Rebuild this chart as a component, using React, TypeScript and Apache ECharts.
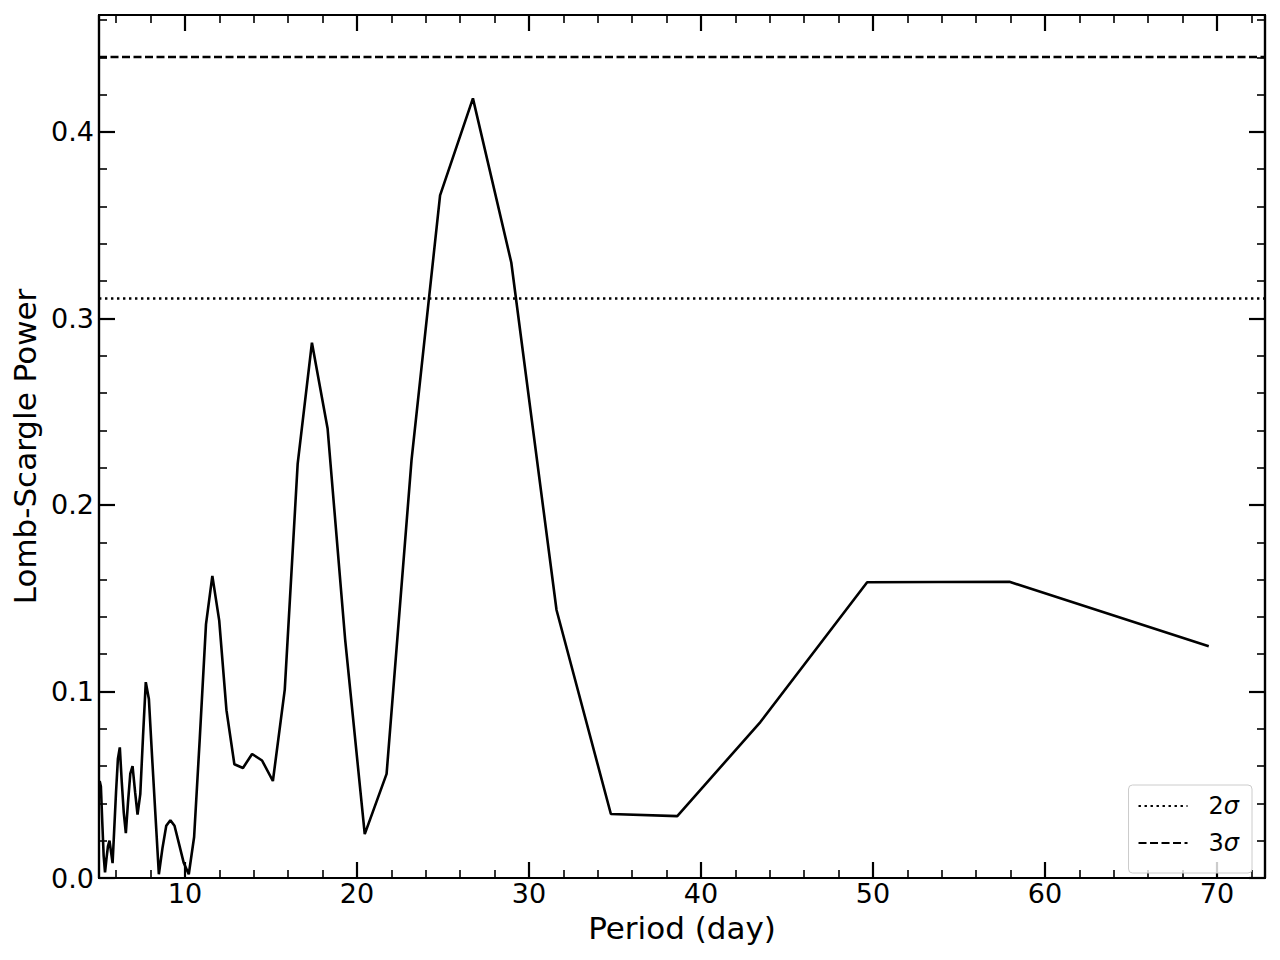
import React, { useEffect, useRef } from "react";
import * as echarts from "echarts";

// Period (day) of each sample
const periods = [
  5.04, 5.11, 5.19, 5.27, 5.35, 5.43, 5.52, 5.61, 5.7, 5.79, 5.89, 5.99, 6.1,
  6.21, 6.32, 6.44, 6.56, 6.69, 6.82, 6.95, 7.1, 7.24, 7.4, 7.56, 7.72, 7.9,
  8.08, 8.28, 8.48, 8.69, 8.91, 9.15, 9.39, 9.66, 9.93, 10.22, 10.53, 10.86,
  11.22, 11.59, 11.99, 12.41, 12.87, 13.37, 13.9, 14.48, 15.11, 15.8, 16.55,
  17.38, 18.29, 19.31, 20.45, 21.72, 23.17, 24.83, 26.74, 28.97, 31.6, 34.76,
  38.62, 43.45, 49.66, 57.93, 69.52,
];
// Lomb-Scargle power at each period
const power = [
  0.052, 0.049, 0.03, 0.012, 0.003, 0.01, 0.017, 0.02, 0.014, 0.008, 0.027,
  0.046, 0.064, 0.07, 0.052, 0.035, 0.024, 0.041, 0.056, 0.06, 0.046, 0.034,
  0.045, 0.076, 0.105, 0.096, 0.066, 0.034, 0.002, 0.016, 0.028, 0.031, 0.028,
  0.018, 0.008, 0.002, 0.022, 0.075, 0.136, 0.162, 0.138, 0.09, 0.061, 0.059,
  0.0665, 0.063, 0.052, 0.101, 0.222, 0.287, 0.241, 0.128, 0.0235, 0.0558,
  0.224, 0.366, 0.418, 0.33, 0.1437, 0.0343, 0.0332, 0.0836, 0.1586, 0.1588,
  0.1243,
];

const xTickValues = [10, 20, 30, 40, 50, 60, 70];
const xMinorValues = [
  6, 8, 12, 14, 16, 18, 22, 24, 26, 28, 32, 34, 36, 38, 42, 44, 46, 48, 52, 54,
  56, 58, 62, 64, 66, 68, 72,
];
const yTickValues = [0, 0.1, 0.2, 0.3, 0.4];
const yMinorValues = [
  0.02, 0.04, 0.06, 0.08, 0.12, 0.14, 0.16, 0.18, 0.22, 0.24, 0.26, 0.28, 0.32,
  0.34, 0.36, 0.38, 0.42, 0.44, 0.46,
];

const sigma2 = 0.3107;
const sigma3 = 0.4402;

const X_MIN = 5;
const X_MAX = 72.79;
const Y_MIN = 0;
const Y_MAX = 0.4627;

const FONT = "DejaVu Sans";

function makeAxis(
  kind: "x" | "y",
  position: string,
  major: boolean,
  labels: boolean,
  extra: any = {}
) {
  const isX = kind === "x";
  return {
    type: "value",
    position,
    min: isX ? X_MIN : Y_MIN,
    max: isX ? X_MAX : Y_MAX,
    axisLine: {
      show: true,
      onZero: false,
      lineStyle: { color: "#000", width: 2.2 },
    },
    axisTick: {
      show: true,
      inside: true,
      length: major ? 16 : 8,
      customValues: major
        ? isX
          ? xTickValues
          : yTickValues
        : isX
        ? xMinorValues
        : yMinorValues,
      lineStyle: { color: "#000", width: major ? 2.2 : 1.6 },
    },
    axisLabel: {
      show: labels,
      customValues: isX ? xTickValues : yTickValues,
      color: "#000",
      fontFamily: FONT,
      fontSize: 27,
      margin: isX ? 2 : 5,
      formatter: (v: number) => (isX ? String(v) : v.toFixed(1)),
    },
    splitLine: { show: false },
    minorTick: { show: false },
    ...extra,
  };
}

export default function App() {
  const ref = useRef<HTMLDivElement>(null);

  useEffect(() => {
    if (!ref.current) return;
    const chart = echarts.init(ref.current, null, { renderer: "svg" });

    const option: any = {
      animation: false,
      backgroundColor: "#fff",
      textStyle: { fontFamily: FONT },
      grid: { left: 99, right: 15, top: 15, bottom: 82, containLabel: false },
      xAxis: [
        makeAxis("x", "bottom", true, true, {
          name: "Period (day)",
          nameLocation: "middle",
          nameGap: 34,
          nameTextStyle: { color: "#000", fontSize: 31, fontFamily: FONT },
        }),
        makeAxis("x", "bottom", false, false),
        makeAxis("x", "top", true, false),
        makeAxis("x", "top", false, false),
      ],
      yAxis: [
        makeAxis("y", "left", true, true, {
          name: "Lomb-Scargle Power",
          nameLocation: "middle",
          nameGap: 45,
          nameTextStyle: { color: "#000", fontSize: 31, fontFamily: FONT },
        }),
        makeAxis("y", "left", false, false),
        makeAxis("y", "right", true, false),
        makeAxis("y", "right", false, false),
      ],
      legend: {
        data: ["2σ", "3σ"],
        orient: "vertical",
        right: 28,
        bottom: 87,
        itemWidth: 49,
        itemHeight: 20,
        itemGap: 13,
        padding: [9, 13, 18, 9],
        borderColor: "#cccccc",
        borderWidth: 1,
        borderRadius: 4,
        backgroundColor: "rgba(255,255,255,0.8)",
        itemStyle: {
          color: "rgba(0,0,0,0)",
          borderColor: "rgba(0,0,0,0)",
          borderWidth: 0,
          opacity: 0,
        },
        formatter: (name: string) => "{n|" + name.charAt(0) + "}{s|σ}",
        textStyle: {
          color: "#000",
          fontFamily: FONT,
          fontSize: 24,
          rich: {
            n: {
              color: "#000",
              fontFamily: FONT,
              fontSize: 24,
              padding: [0, 0, 0, 16],
            },
            s: {
              color: "#000",
              fontFamily: FONT,
              fontSize: 24,
              fontStyle: "italic",
            },
          },
        },
      },
      series: [
        {
          name: "power",
          type: "line",
          xAxisIndex: 0,
          yAxisIndex: 0,
          data: periods.map((p, i) => [p, power[i]]),
          symbol: "none",
          lineStyle: { color: "#000", width: 2.6 },
          clip: true,
          z: 3,
        },
        {
          name: "2σ",
          type: "line",
          xAxisIndex: 0,
          yAxisIndex: 0,
          data: [
            [X_MIN, sigma2],
            [X_MAX, sigma2],
          ],
          symbol: "none",
          color: "#000",
          lineStyle: { color: "#000", width: 2.4, type: [2.4, 3.6] },
        },
        {
          name: "3σ",
          type: "line",
          xAxisIndex: 0,
          yAxisIndex: 0,
          data: [
            [X_MIN, sigma3],
            [X_MAX, sigma3],
          ],
          symbol: "none",
          color: "#000",
          lineStyle: { color: "#000", width: 2.4, type: [8, 3.5] },
        },
      ],
    };

    chart.setOption(option);
    return () => chart.dispose();
  }, []);

  return (
    <div
      ref={ref}
      style={{
        position: "absolute",
        left: 0,
        top: 0,
        width: 1280,
        height: 960,
      }}
    />
  );
}
